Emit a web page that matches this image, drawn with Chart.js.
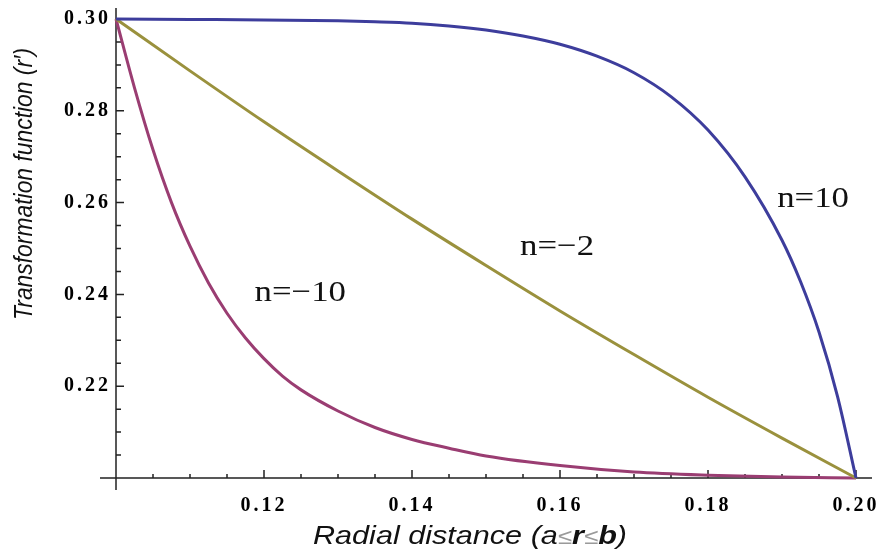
<!DOCTYPE html>
<html>
<head>
<meta charset="utf-8">
<script src="https://cdn.jsdelivr.net/npm/chart.js@4.4.1/dist/chart.umd.min.js"></script>
<style>
    html, body { margin: 0; padding: 0; background: #ffffff; }
</style>
</head>
<body>
<canvas id="transChart" width="880" height="559"></canvas>
<script>
// Radial distance r and transformation r', one pair of arrays per curve
const rPos10 = [0.100, 0.110, 0.120, 0.130, 0.135, 0.140, 0.145, 0.150, 0.155, 0.160, 0.165, 0.170, 0.175, 0.180, 0.185, 0.190, 0.1925, 0.195, 0.1975, 0.200];
const yPos10 = [0.3000, 0.2999, 0.2998, 0.2996, 0.2994, 0.2991, 0.2985, 0.2976, 0.2963, 0.2945, 0.2919, 0.2883, 0.2831, 0.2758, 0.2656, 0.2518, 0.2428, 0.2318, 0.2178, 0.2000];

const rNeg2 = [0.100, 0.110, 0.120, 0.130, 0.140, 0.150, 0.160, 0.170, 0.180, 0.190, 0.200];
const yNeg2 = [0.3000, 0.2887, 0.2776, 0.2669, 0.2564, 0.2463, 0.2364, 0.2269, 0.2176, 0.2087, 0.2000];

const rNeg10 = [0.1000, 0.1025, 0.1050, 0.1075, 0.1100, 0.1125, 0.1150, 0.1175, 0.1200, 0.1225, 0.1250, 0.1300, 0.1350, 0.1400, 0.1450, 0.1500, 0.1600, 0.1700, 0.1800, 0.1900, 0.2000];
const yNeg10 = [0.3000, 0.2850, 0.2715, 0.2600, 0.2505, 0.2425, 0.2359, 0.2305, 0.2260, 0.2222, 0.2192, 0.2146, 0.2110, 0.2084, 0.2065, 0.2048, 0.2027, 0.2013, 0.2006, 0.2002, 0.2000];

const curveNames = ['n=10', 'n=\u22122', 'n=\u221210'];
// where each curve name sits, in data units (r, r')
const nameR = [0.1942, 0.1596, 0.1249];
const nameY = [0.2607, 0.2502, 0.2402];

const xTitle = 'Radial distance';
const yTitle = 'Transformation function (r\u2032)';

const toPoints = (xs, ys) => xs.map((x, i) => ({ x: x, y: ys[i] }));
const isMajor = v => Math.round(v * 1000) % 20 === 0;

// draw text squeezed or stretched to a given width
function drawFitted(ctx, text, font, width) {
    ctx.font = font;
    const w = ctx.measureText(text).width;
    ctx.save();
    ctx.scale(width / w, 1);
    ctx.fillText(text, -w / 2, 0);
    ctx.restore();
}

const mathAxes = {
    id: 'mathAxes',
    beforeDraw(chart) {
        // the tick numbers in the original are set wide
        chart.ctx.letterSpacing = '3px';
    },
    beforeDatasetsDraw(chart) {
        const ctx = chart.ctx;
        ctx.letterSpacing = '0px';
        const xs = chart.scales.x;
        const ys = chart.scales.y;
        const x0 = xs.getPixelForValue(xs.min);
        const y0 = ys.getPixelForValue(ys.min);

        ctx.save();
        ctx.strokeStyle = '#222222';
        ctx.lineWidth = 1.5;
        ctx.beginPath();
        ctx.moveTo(xs.left - 16, y0);
        ctx.lineTo(xs.right + 16, y0);
        ctx.moveTo(x0, ys.top - 11);
        ctx.lineTo(x0, ys.bottom + 12);

        xs.ticks.forEach(t => {
            if (t.value <= xs.min) return;
            const px = xs.getPixelForValue(t.value);
            ctx.moveTo(px, y0);
            ctx.lineTo(px, y0 - (isMajor(t.value) ? 8 : 4));
        });
        ys.ticks.forEach(t => {
            if (t.value <= ys.min) return;
            const py = ys.getPixelForValue(t.value);
            ctx.moveTo(x0, py);
            ctx.lineTo(x0 + (isMajor(t.value) ? 8 : 5), py);
        });
        ctx.stroke();
        ctx.restore();
    },
    afterDatasetsDraw(chart) {
        const ctx = chart.ctx;
        const xs = chart.scales.x;
        const ys = chart.scales.y;
        ctx.save();
        ctx.fillStyle = '#111111';
        ctx.textBaseline = 'middle';
        curveNames.forEach((name, i) => {
            ctx.save();
            ctx.translate(xs.getPixelForValue(nameR[i]), ys.getPixelForValue(nameY[i]));
            ctx.font = '30px "Liberation Serif"';
            const w = ctx.measureText(name).width;
            drawFitted(ctx, name, ctx.font, w * 1.16);
            ctx.restore();
        });
        ctx.restore();
    },
    afterDraw(chart) {
        const ctx = chart.ctx;
        ctx.save();
        ctx.fillStyle = '#111111';
        ctx.textBaseline = 'alphabetic';

        // x title, with the inequality in the brackets
        const parts = [
            [xTitle + ' (', 'italic 26px "Liberation Sans"', '#111111'],
            ['a', 'italic 26px "Liberation Sans"', '#111111'],
            ['\u2264', '22px "Liberation Sans"', '#9a9a9a'],
            ['r', 'italic bold 26px "Liberation Sans"', '#111111'],
            ['\u2264', '22px "Liberation Sans"', '#9a9a9a'],
            ['b', 'italic bold 26px "Liberation Sans"', '#111111'],
            [')', 'italic 26px "Liberation Sans"', '#111111']
        ];
        let total = 0;
        parts.forEach(p => { ctx.font = p[1]; total += ctx.measureText(p[0]).width; });
        const targetW = 314;
        ctx.save();
        ctx.translate(313, 544);
        ctx.scale(targetW / total, 1);
        let cx = 0;
        parts.forEach(p => {
            ctx.font = p[1];
            ctx.fillStyle = p[2];
            ctx.fillText(p[0], cx, 0);
            cx += ctx.measureText(p[0]).width;
        });
        ctx.restore();

        // y title, turned upright
        ctx.save();
        ctx.fillStyle = '#111111';
        ctx.translate(32, 184);
        ctx.scale(1.15, 1);
        ctx.rotate(-Math.PI / 2);
        drawFitted(ctx, yTitle, 'italic 23px "Liberation Sans"', 272);
        ctx.restore();

        ctx.restore();
    }
};

const tickFont = { family: 'Liberation Serif', size: 20, weight: 'bold' };

new Chart(document.getElementById('transChart'), {
    type: 'scatter',
    data: {
        datasets: [
            { label: curveNames[0], data: toPoints(rPos10, yPos10), borderColor: '#3d3d9c', borderWidth: 3 },
            { label: curveNames[1], data: toPoints(rNeg2, yNeg2), borderColor: '#9a913d', borderWidth: 3 },
            { label: curveNames[2], data: toPoints(rNeg10, yNeg10), borderColor: '#9a3d72', borderWidth: 3 }
        ]
    },
    options: {
        responsive: false,
        animation: false,
        devicePixelRatio: 1,
        showLine: true,
        clip: false,
        elements: {
            point: { radius: 0, hoverRadius: 0 },
            line: { cubicInterpolationMode: 'monotone', fill: false }
        },
        layout: { padding: { top: 19, right: 24, left: 0, bottom: 0 } },
        plugins: {
            legend: { display: false },
            tooltip: { enabled: false }
        },
        scales: {
            x: {
                type: 'linear',
                min: 0.10,
                max: 0.20,
                grid: { display: false },
                border: { display: false },
                afterFit: scale => {
                    scale.height = 81;
                    scale.paddingLeft = 0;
                    scale.paddingRight = 0;
                },
                ticks: {
                    stepSize: 0.005,
                    autoSkip: false,
                    maxRotation: 0,
                    padding: 8,
                    color: '#000000',
                    font: tickFont,
                    callback: v => (isMajor(v) && v > 0.1001) ? v.toFixed(2) : ''
                }
            },
            y: {
                type: 'linear',
                min: 0.20,
                max: 0.30,
                grid: { display: false },
                border: { display: false },
                afterFit: scale => {
                    scale.width = 116;
                    scale.paddingTop = 0;
                    scale.paddingBottom = 0;
                },
                ticks: {
                    stepSize: 0.005,
                    autoSkip: false,
                    padding: -3,
                    color: '#000000',
                    font: tickFont,
                    callback: v => (isMajor(v) && v > 0.2001) ? v.toFixed(2) : ''
                }
            }
        }
    },
    plugins: [mathAxes]
});
</script>
</body>
</html>
